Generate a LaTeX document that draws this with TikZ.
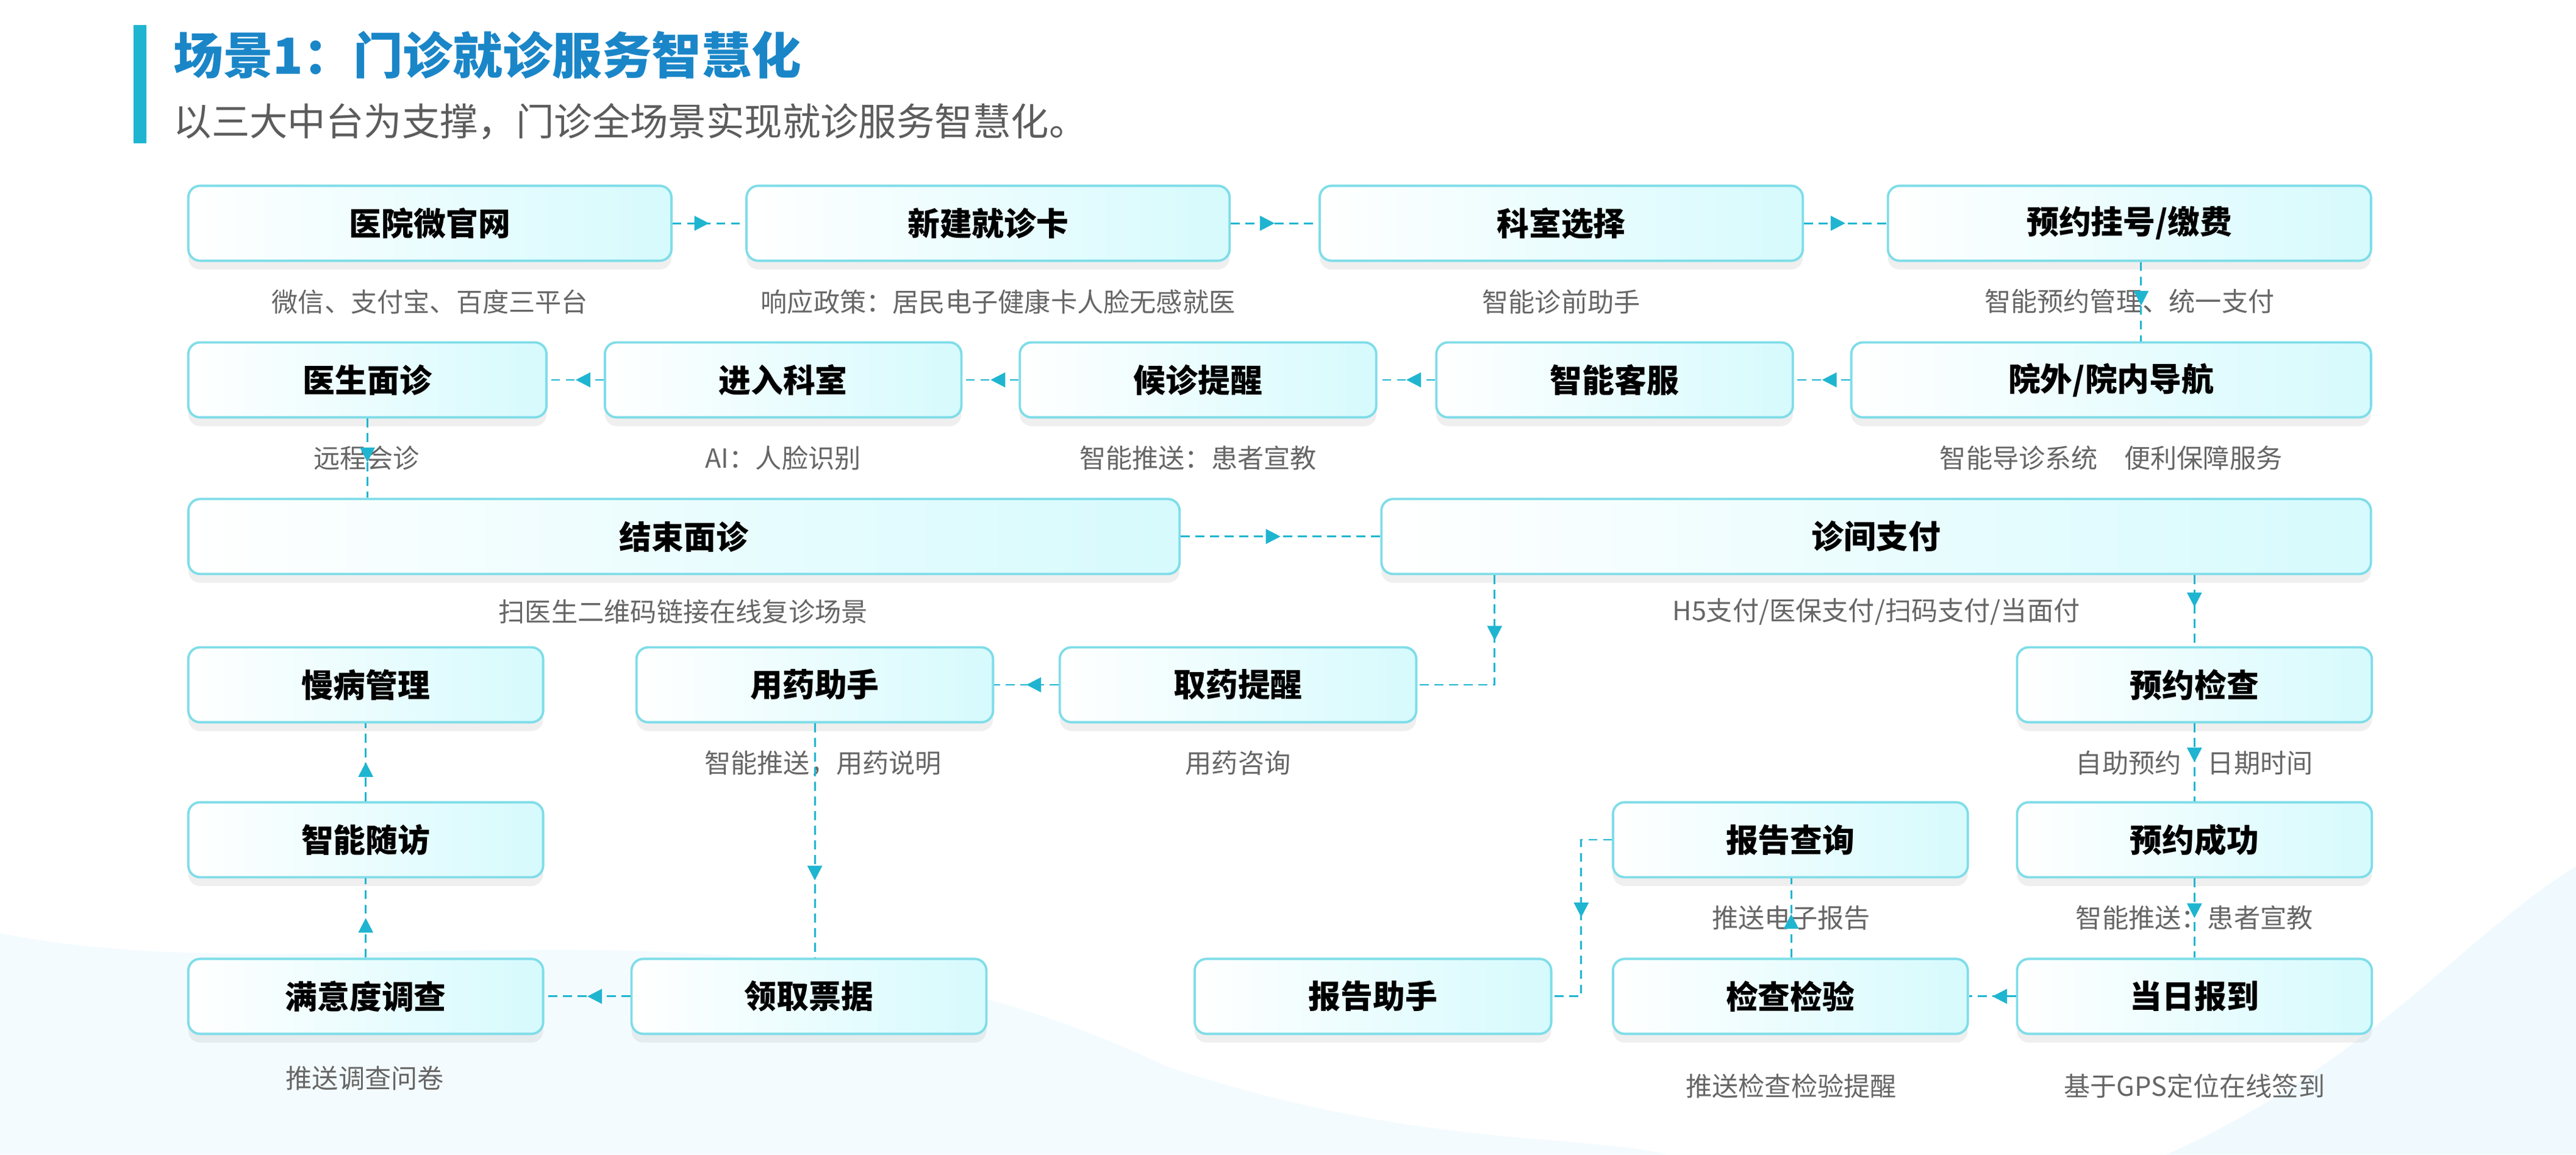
\documentclass[tikz,border=0pt]{standalone}
\usepackage{fontspec}
\setmainfont{Noto Sans CJK SC}
\usetikzlibrary{arrows.meta,decorations.markings,shadows,calc}
\definecolor{lc}{HTML}{1FB5D0}
\definecolor{bd}{HTML}{7FDDE8}
\definecolor{bf}{HTML}{D6FAFD}
\definecolor{tb}{HTML}{1A86C8}
\definecolor{sg}{HTML}{666666}
\begin{document}
\begin{tikzpicture}[x=0.02cm,y=-0.02cm,
  box/.style={draw=bd,line width=0.8pt,rounded corners=4pt,minimum height=0.9cm,
    left color=white,right color=bf,inner sep=0pt,
    drop shadow={opacity=0.12,shadow xshift=0pt,shadow yshift=-3pt},
    font=\fontsize{11}{13}\selectfont\bfseries},
  sub/.style={text=sg,font=\fontsize{9}{11}\selectfont},
  flow/.style={draw=lc,dashed,dash pattern=on 3pt off 2pt,line width=0.6pt,postaction=decorate,
    decoration={markings,mark=at position #1 with {\arrow{Triangle[width=5pt,length=5pt]}}}},
  flow/.default=0.5]
\useasboundingbox (0,0) rectangle (1546,693);
\fill[white] (0,0) rectangle (1546,693);
% background waves
\fill[cyan!6,opacity=0.7] (0,693) -- (0,560) .. controls (200,600) and (450,520) .. (700,640) .. controls (850,690) and (950,680) .. (1000,693) -- cycle;
\fill[cyan!8,opacity=0.7] (1546,693) -- (1546,520) .. controls (1480,560) and (1420,640) .. (1300,693) -- cycle;
% title
\fill[lc] (80,15) rectangle (88,86);
\node[anchor=west,text=tb,font=\fontsize{17}{20}\selectfont\bfseries] (title) at (98,33) {场景1：门诊就诊服务智慧化};
\node[anchor=west,text=sg!90!black,font=\fontsize{13}{16}\selectfont] (subt) at (98,73) {以三大中台为支撑，门诊全场景实现就诊服务智慧化。};
% row 1
\node[box,minimum width=5.8cm] (a1) at (258,134) {医院微官网};
\node[box,minimum width=5.8cm] (a2) at (593,134) {新建就诊卡};
\node[box,minimum width=5.8cm] (a3) at (937,134) {科室选择};
\node[box,minimum width=5.8cm] (a4) at (1278,134) {预约挂号/缴费};
\node[sub] (s1) at (258,181) {微信、支付宝、百度三平台};
\node[sub] (s2) at (599,181) {响应政策：居民电子健康卡人脸无感就医};
\node[sub] (s3) at (937,181) {智能诊前助手};
\node[sub] (s4) at (1278,181) {智能预约管理、统一支付};
% row 2
\node[box,minimum width=4.3cm] (b1) at (220.5,228) {医生面诊};
\node[box,minimum width=4.28cm] (b2) at (470,228) {进入科室};
\node[box,minimum width=4.28cm] (b3) at (719,228) {候诊提醒};
\node[box,minimum width=4.28cm] (b4) at (969,228) {智能客服};
\node[box,minimum width=6.24cm] (b5) at (1267,228) {院外/院内导航};
\node[sub] (t1) at (220,275) {远程会诊};
\node[sub] (t2) at (470,275) {AI：人脸识别};
\node[sub] (t3) at (719,275) {智能推送：患者宣教};
\node[sub] (t5) at (1267,275) {智能导诊系统\quad 便利保障服务};
% row 3
\node[box,minimum width=11.9cm] (c1) at (410.5,322) {结束面诊};
\node[box,minimum width=11.88cm] (c2) at (1126,322) {诊间支付};
\node[sub] (u1) at (410,367) {扫医生二维码链接在线复诊场景};
\node[sub] (u2) at (1126,367) {H5支付/医保支付/扫码支付/当面付};
% row 4
\node[box,minimum width=4.26cm] (d1) at (219.5,411) {慢病管理};
\node[box,minimum width=4.28cm] (d2) at (489,411) {用药助手};
\node[box,minimum width=4.28cm] (d3) at (743,411) {取药提醒};
\node[box,minimum width=4.26cm] (d4) at (1317,411) {预约检查};
\node[sub] (v2) at (494,458) {智能推送，用药说明};
\node[sub] (v3) at (743,458) {用药咨询};
\node[sub] (v4) at (1317,458) {自助预约\quad 日期时间};
% row 5
\node[box,minimum width=4.26cm] (e1) at (219.5,504) {智能随访};
\node[box,minimum width=4.26cm] (e3) at (1074.5,504) {报告查询};
\node[box,minimum width=4.26cm] (e4) at (1317,504) {预约成功};
\node[sub] (w3) at (1075,551) {推送电子报告};
\node[sub] (w4) at (1317,551) {智能推送：患者宣教};
% row 6
\node[box,minimum width=4.26cm] (f1) at (219.5,598) {满意度调查};
\node[box,minimum width=4.26cm] (f2) at (485.5,598) {领取票据};
\node[box,minimum width=4.28cm] (f3) at (824,598) {报告助手};
\node[box,minimum width=4.26cm] (f4) at (1074.5,598) {检查检验};
\node[box,minimum width=4.26cm] (f5) at (1317,598) {当日报到};
\node[sub] (x1) at (219,647) {推送调查问卷};
\node[sub] (x4) at (1075,652) {推送检查检验提醒};
\node[sub] (x5) at (1317,652) {基于GPS定位在线签到};
% helper coordinates
\coordinate (k897) at (897,0);
\coordinate (k1317) at (1317,0);
\coordinate (k1285) at (1285,0);
\coordinate (k949) at (949,0);
\coordinate (k1075) at (1075,0);
% connectors
\draw[flow] (a1) -- (a2);
\draw[flow] (a2) -- (a3);
\draw[flow] (a3) -- (a4);
\draw[flow=0.55] (a4.south -| k1285) -- (b5.north -| k1285);
\draw[flow] (b5) -- (b4);
\draw[flow] (b4) -- (b3);
\draw[flow] (b3) -- (b2);
\draw[flow] (b2) -- (b1);
\draw[flow=0.55] (b1.south) -- (b1.south |- c1.north);
\draw[flow] (c1) -- (c2);
\draw[flow=0.35] (c2.south -| k897) |- (d3.east);
\draw[flow=0.45] (c2.south -| k1317) -- (d4.north);
\draw[flow] (d3) -- (d2);
\draw[flow=0.67] (d2.south) -- (f2.north -| d2.south);
\draw[flow] (f2) -- (f1);
\draw[flow] (f1) -- (e1);
\draw[flow] (e1) -- (d1);
\draw[flow] (d4) -- (e4);
\draw[flow] (e4) -- (f5);
\draw[flow] (f5) -- (f4);
\draw[flow=0.55] (f4.north -| k1075) -- (e3.south -| k1075);
\draw[flow] (e3.west) -| ($(k949|-e3.west)!0.5!(k949|-f3.east)$) |- (f3.east);
\end{tikzpicture}
\end{document}
